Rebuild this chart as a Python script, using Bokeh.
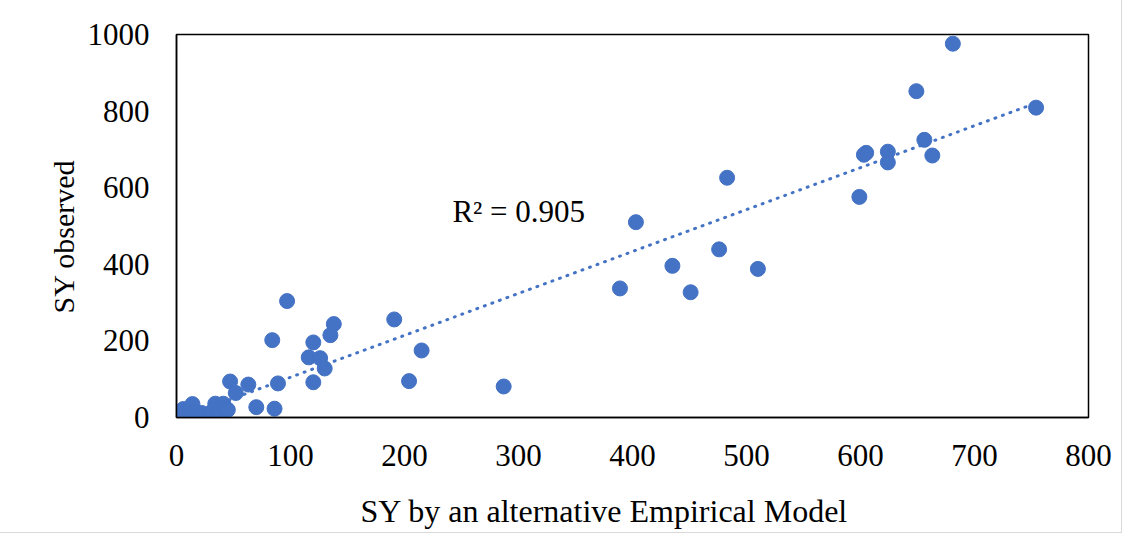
import numpy as np
from bokeh.plotting import figure
from bokeh.models import Range1d, FixedTicker, Title
from bokeh.embed import file_html
from bokeh.resources import INLINE

# SY by an alternative Empirical Model (x) vs SY observed (y)
sy_model = [681, 649, 754, 656, 663, 605, 603, 624, 624, 599,
            483, 403, 476, 435, 510, 389, 451,
            191, 138, 135, 120, 116, 126, 130, 120, 215, 204, 287,
            97, 84, 47, 52, 63, 89, 70, 86,
            0, 3, 6, 9, 12, 14, 16, 19, 22, 25, 28, 31, 34, 36, 38, 41, 43, 45]
sy_observed = [976, 852, 809, 725, 684, 691, 686, 694, 666, 576,
               626, 510, 439, 396, 388, 337, 327,
               256, 244, 215, 196, 157, 155, 128, 92, 175, 95, 81,
               304, 202, 94, 64, 86, 89, 27, 23,
               2, 8, 22, 12, 5, 35, 15, 4, 12, 0, 8, 15, 36, 0, 12, 36, 22, 20]
r2_text = "R² = 0.905"
x_title = "SY by an alternative Empirical Model"
y_title = "SY observed"
x_ticks = [0, 100, 200, 300, 400, 500, 600, 700, 800]
y_ticks = [0, 200, 400, 600, 800, 1000]

BLUE = "#4472C4"
FONT = "Liberation Serif"

p = figure(width=1121, height=532, output_backend="svg", toolbar_location=None,
           x_range=Range1d(0, 800), y_range=Range1d(0, 1000),
           min_border_left=176, min_border_right=33, min_border_top=34, min_border_bottom=115,
           x_axis_location="below", y_axis_location="left")

p.grid.visible = False
p.outline_line_color = "black"
p.outline_line_width = 1.5
p.background_fill_color = "white"
p.border_fill_color = "white"

for ax in (p.xaxis[0], p.yaxis[0]):
    ax.axis_line_color = "black"
    ax.axis_line_width = 1.5
    ax.major_tick_line_color = None
    ax.minor_tick_line_color = None
    ax.major_tick_in = 0
    ax.major_tick_out = 0
    ax.minor_tick_in = 0
    ax.minor_tick_out = 0
    ax.major_label_text_font = FONT
    ax.major_label_text_font_size = "31px"
    ax.major_label_text_color = "black"

p.xaxis[0].ticker = FixedTicker(ticks=x_ticks)
p.yaxis[0].ticker = FixedTicker(ticks=y_ticks)
p.xaxis[0].major_label_standoff = 27
p.yaxis[0].major_label_standoff = 27

# x axis title: centred label, trailing no-break spaces shift it left like the original
p.xaxis[0].axis_label = x_title + "\u00a0" * 7
p.xaxis[0].axis_label_text_font = FONT
p.xaxis[0].axis_label_text_font_size = "32px"
p.xaxis[0].axis_label_text_font_style = "normal"
p.xaxis[0].axis_label_text_color = "black"
p.xaxis[0].axis_label_standoff = 24

yt = Title(text=y_title, align="left", offset=104,
           text_font=FONT, text_font_size="30px", text_font_style="normal",
           text_color="black", standoff=10)
p.add_layout(yt, "left")

# points
p.scatter(sy_model, sy_observed, size=15, fill_color=BLUE, line_color=BLUE, line_width=1)

# linear trendline
xs = np.array(sy_model, dtype=float)
ys = np.array(sy_observed, dtype=float)
m, b = np.polyfit(xs, ys, 1)
tx = np.array([xs.min(), xs.max()])
p.line(tx, m * tx + b, line_color=BLUE, line_width=3, line_dash="1 7", line_cap="round")

p.text(x=[242], y=[537], text=[r2_text], text_font_size="31px", text_baseline="middle",
       text_align="left", text_color="black", text_font={"value": FONT})

p.styles = {"outline": "1px solid #d9d9d9"}

open("out.html", "w").write(file_html(p, INLINE))
